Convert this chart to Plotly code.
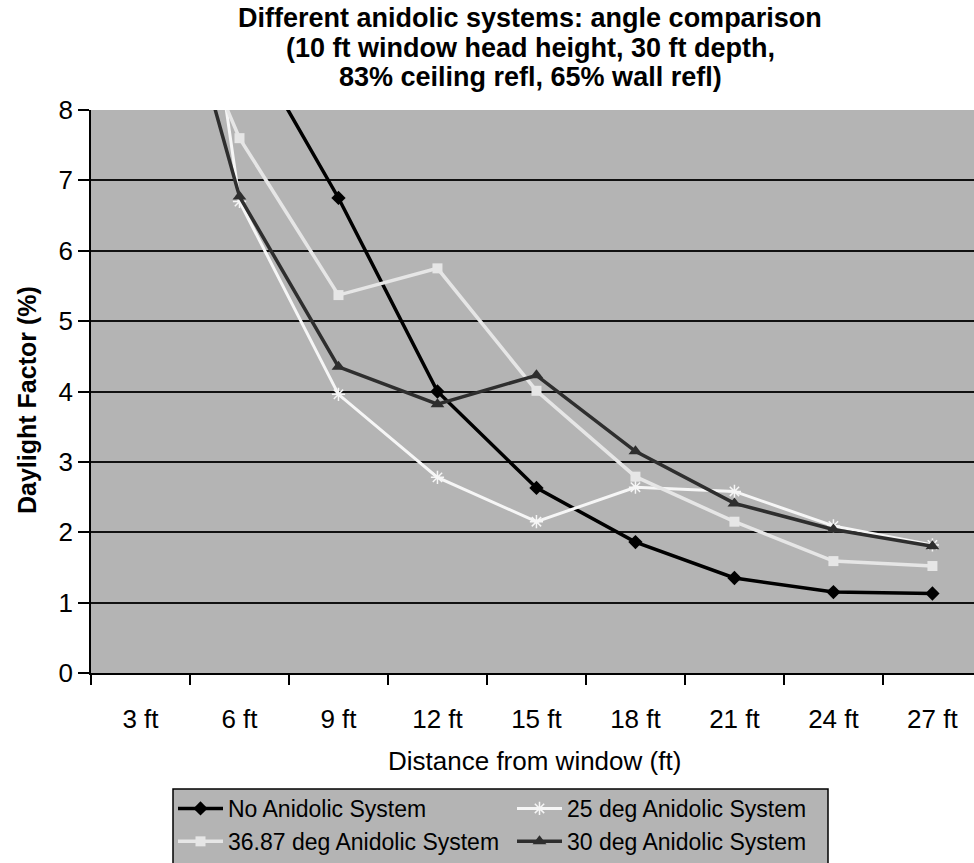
import plotly.graph_objects as go

categories = ["3 ft", "6 ft", "9 ft", "12 ft", "15 ft", "18 ft", "21 ft", "24 ft", "27 ft"]
no_anidolic = [13.0, 9.2, 6.75, 4.0, 2.63, 1.86, 1.35, 1.15, 1.13]
deg25 = [16.5, 6.7, 3.96, 2.78, 2.15, 2.64, 2.58, 2.09, 1.82]
deg3687 = [10.9, 7.6, 5.37, 5.75, 4.01, 2.79, 2.15, 1.59, 1.52]
deg30 = [11.8, 6.77, 4.35, 3.82, 4.23, 3.15, 2.41, 2.04, 1.80]

title_lines = [
    "Different anidolic systems: angle comparison",
    "(10 ft window head height, 30 ft depth,",
    "83% ceiling refl, 65% wall refl)",
]
x_title = "Distance from window (ft)"
y_title = "Daylight Factor (%)"

FONT = "Liberation Sans, Arial, sans-serif"
BG = "#b4b4b4"

fig = go.Figure()
fig.add_trace(go.Scatter(
    x=categories, y=no_anidolic, name="No Anidolic System", mode="lines+markers",
    line=dict(color="#000000", width=3.5),
    marker=dict(symbol="diamond", size=11, color="#000000"),
    legend="legend"))
fig.add_trace(go.Scatter(
    x=categories, y=deg25, name="25 deg Anidolic System", mode="lines+markers",
    line=dict(color="#f6f6f6", width=3),
    marker=dict(symbol="asterisk-open", size=11, color="#f6f6f6",
                line=dict(width=1.5, color="#f6f6f6")),
    legend="legend2"))
fig.add_trace(go.Scatter(
    x=categories, y=deg3687, name="36.87 deg Anidolic System", mode="lines+markers",
    line=dict(color="#e6e6e6", width=3.5),
    marker=dict(symbol="square", size=10, color="#e6e6e6"),
    legend="legend"))
fig.add_trace(go.Scatter(
    x=categories, y=deg30, name="30 deg Anidolic System", mode="lines+markers",
    line=dict(color="#2e2e2e", width=3.5),
    marker=dict(symbol="triangle-up", size=12, color="#2e2e2e"),
    legend="legend2"))

W, H = 974, 863
pl, pt, pb = 91, 110, 190
pw, ph = W - pl, H - pt - pb


def px(xp):
    return (xp - pl) / pw


def py(yp):
    return ((H - yp) - pb) / ph


ann = []
for t, yc in zip(title_lines, [18, 48, 77]):
    ann.append(dict(text="<b>%s</b>" % t, x=px(530), y=py(yc), xref="paper", yref="paper",
                    xanchor="center", yanchor="middle", showarrow=False,
                    font=dict(family=FONT, size=27)))
ann.append(dict(text=x_title, x=px(534), y=py(761), xref="paper", yref="paper",
                xanchor="center", yanchor="middle", showarrow=False,
                font=dict(family=FONT, size=26)))
ann.append(dict(text="<b>%s</b>" % y_title, x=px(27), y=py(400), xref="paper", yref="paper",
                xanchor="center", yanchor="middle", textangle=-90, showarrow=False,
                font=dict(family=FONT, size=25)))

legend_common = dict(
    orientation="v", xanchor="left", yanchor="top",
    bgcolor="rgba(0,0,0,0)", borderwidth=0,
    font=dict(family=FONT, size=23, color="#000000"),
    itemwidth=45, tracegroupgap=0,
)

fig.update_layout(
    width=W, height=H,
    margin=dict(l=pl, r=0, t=pt, b=pb, pad=0),
    paper_bgcolor="white", plot_bgcolor=BG,
    font=dict(family=FONT, size=22, color="#000000"),
    showlegend=True,
    annotations=ann,
    shapes=[dict(type="rect", xref="paper", yref="paper",
                 x0=px(173), x1=px(828), y0=py(789), y1=py(880),
                 fillcolor=BG, line=dict(color="#000000", width=1.5), layer="above")],
    legend=dict(x=px(173), y=py(787), **legend_common),
    legend2=dict(x=px(512), y=py(787), **legend_common),
    xaxis=dict(
        type="category", range=[-0.5, 8.42], showgrid=False,
        showline=True, linecolor="#000000", linewidth=1.5,
        ticks="outside", ticklen=10, tickwidth=1.5, tickcolor="#000000",
        tickson="boundaries", ticklabelstandoff=22,
        tickfont=dict(family=FONT, size=26), zeroline=False,
    ),
    yaxis=dict(
        range=[0, 8], dtick=1, tick0=0, showgrid=True, gridcolor="#111111", gridwidth=1.5,
        showline=True, linecolor="#000000", linewidth=1.5,
        ticks="outside", ticklen=11, tickwidth=1.5, tickcolor="#000000",
        ticklabelstandoff=0, tickfont=dict(family=FONT, size=26), zeroline=False,
    ),
)

fig.write_html("out.html",
               config={"displayModeBar": False},
               post_script="document.body.style.margin='0px';document.body.style.overflow='hidden';")
